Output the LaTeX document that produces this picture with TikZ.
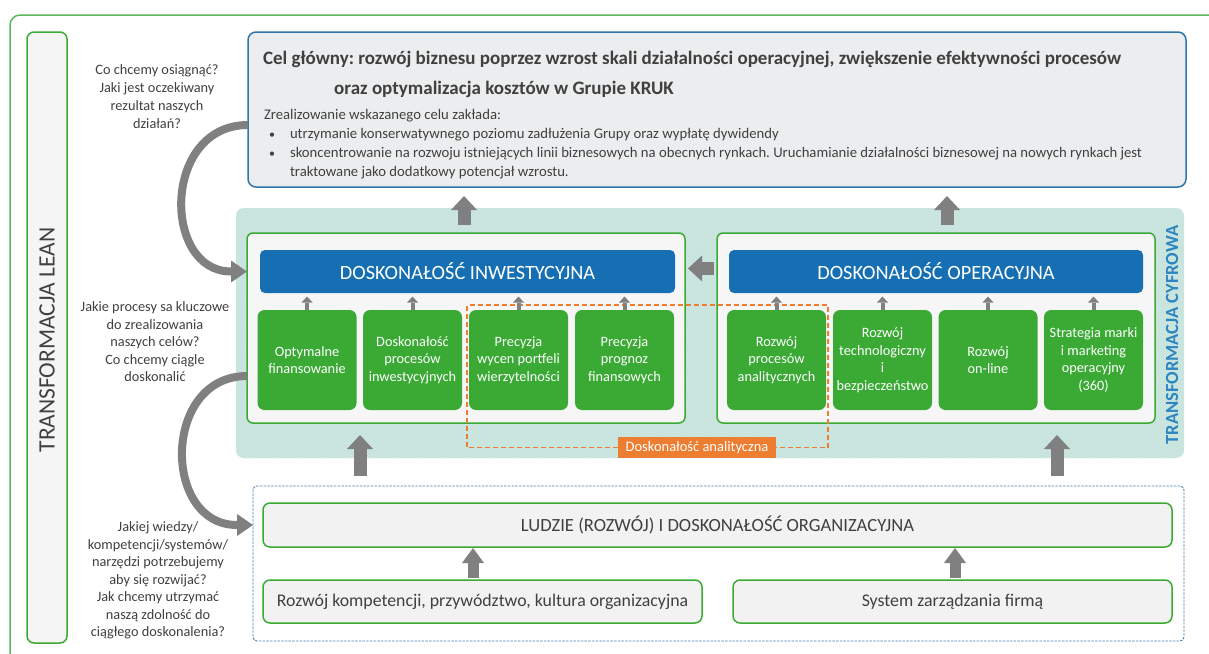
\documentclass[tikz,border=0pt]{standalone}
\usepackage{fontspec}
\setmainfont{Carlito}
\usetikzlibrary{arrows.meta,patterns,calc}
\definecolor{frameg}{RGB}{92,184,92}
\definecolor{boxg}{RGB}{58,170,53}
\definecolor{hdrblue}{RGB}{21,111,178}
\definecolor{topblue}{RGB}{46,117,170}
\definecolor{tealc}{RGB}{196,225,218}
\definecolor{teall}{RGB}{216,236,231}
\definecolor{orng}{RGB}{237,125,49}
\definecolor{txt}{RGB}{64,64,64}
\definecolor{arr}{RGB}{128,128,128}
\definecolor{cyfblue}{RGB}{46,134,193}
\definecolor{dashblue}{RGB}{70,130,180}
\definecolor{lgray}{RGB}{236,237,238}
\frenchspacing
\begin{document}
\begin{tikzpicture}[x=1pt,y=-1pt,
  every node/.style={inner sep=0pt, outer sep=0pt},
  fsz/.style 2 args={font=\fontsize{#1}{#2}\selectfont},
  bsz/.style 2 args={font=\fontsize{#1}{#2}\selectfont\bfseries},
  qtext/.style={align=center, text=txt, fsz={14.3}{17.5}},
  topbox/.style={draw=topblue, line width=1.5pt, rounded corners=8pt, fill=lgray},
  bandbox/.style={rounded corners=8pt, fill=tealc, postaction={pattern=north east lines, pattern color=teall}},
  groupbox/.style={draw=boxg, line width=1.5pt, rounded corners=6pt, fill=gray!7},
  hdrbox/.style={fill=hdrblue, rounded corners=5pt, text=white, fsz={20.3}{24}},
  gbox/.style={fill=boxg, rounded corners=7pt, text=white, align=center, fsz={14.3}{17.5}, minimum width=99pt, minimum height=100pt},
  lbox/.style={draw=boxg, line width=1.5pt, rounded corners=7pt, fill=gray!10, text=txt},
  bigarr/.style={draw=arr, line width=13pt, -{Triangle[length=14pt,width=26pt,line width=0pt]}},
  midarr/.style={draw=arr, line width=11pt, -{Triangle[length=15pt,width=22pt,line width=0pt]}},
  smallarr/.style={draw=arr, line width=4pt, -{Triangle[length=6pt,width=11pt,line width=0pt]}},
  curvarr/.style={draw=arr, line width=8pt, -{Triangle[length=16pt,width=22pt,line width=0pt]}},
  odash/.style={draw=orng, line width=1.3pt, dash pattern=on 5pt off 3pt}
]
\useasboundingbox (0,0) rectangle (1209,653);
\fill[white] (0,0) rectangle (1209,653);

% outer frame
\draw[frameg, line width=1.5pt, rounded corners=10pt] (10,670) -- (10,15) -- (1220,15);

% left bar
\node[lbox, minimum width=40pt, minimum height=611pt, fill=gray!8] (lean) at (47,337.5) {};
\node[rotate=90, text=txt, fsz={23.5}{26}] (leant) at (47,340) {TRANSFORMACJA LEAN};

% questions
\node[qtext, fsz={14.3}{18}] (q1) at (157,97) {Co chcemy osiągnąć?\\Jaki jest oczekiwany\\rezultat naszych\\działań?};
\node[qtext] (q2) at (155,342) {Jakie procesy sa kluczowe\\do zrealizowania\\naszych celów?\\Co chcemy ciągle\\doskonalić};
\node[qtext] (q3) at (158,580.5) {Jakiej wiedzy/\\kompetencji/systemów/\\narzędzi potrzebujemy\\aby się rozwijać?\\Jak chcemy utrzymać\\naszą zdolność do\\ciągłego doskonalenia?};

% top box
\node[topbox, minimum width=938pt, minimum height=155pt] (top) at (717,109.5) {};
\node[anchor=base west, text=txt, bsz={19}{22}] (t1) at (263,64) {Cel główny: rozwój biznesu poprzez wzrost skali działalności operacyjnej, zwiększenie efektywności procesów};
\node[anchor=base, text=txt, bsz={19}{22}] (t2) at (504,94) {oraz optymalizacja kosztów w Grupie KRUK};
\node[anchor=base west, text=txt, fsz={14.7}{17}] (b0) at (264,119.5) {Zrealizowanie wskazanego celu zakłada:};
\node[anchor=base west, text=txt, fsz={12}{17}] (bu1) at (269,138) {•};
\node[anchor=base west, text=txt, fsz={14.7}{17}] (bt1) at (290,138) {utrzymanie konserwatywnego poziomu zadłużenia Grupy oraz wypłatę dywidendy};
\node[anchor=base west, text=txt, fsz={12}{17}] (bu2) at (269,157) {•};
\node[anchor=base west, text=txt, fsz={14.7}{17}] (bt2) at (290,157) {skoncentrowanie na rozwoju istniejących linii biznesowych na obecnych rynkach. Uruchamianie działalności biznesowej na nowych rynkach jest};
\node[anchor=base west, text=txt, fsz={14.7}{17}] (bt3) at (290,176.5) {traktowane jako dodatkowy potencjał wzrostu.};

% teal band
\node[bandbox, minimum width=948pt, minimum height=250pt] (band) at (710,333) {};
\node[rotate=90, text=cyfblue, bsz={18.5}{21}] (cyf) at (1172,335) {TRANSFORMACJA CYFROWA};

% arrows top box <- band
\coordinate (ua1) at (464,225);
\coordinate (ua2) at (464,196);
\coordinate (ub1) at (947,225);
\coordinate (ub2) at (947,196);
\draw[bigarr] (ua1) -- (ua2);
\draw[bigarr] (ub1) -- (ub2);

% group boxes
\node[groupbox, minimum width=438pt, minimum height=190pt] (invbox) at (466,328) {};
\node[groupbox, minimum width=438pt, minimum height=190pt] (opbox) at (936,328) {};
\node[hdrbox, minimum width=415pt, minimum height=43pt] (inv) at (467.5,271.5) {DOSKONAŁOŚĆ INWESTYCYJNA};
\node[hdrbox, minimum width=414pt, minimum height=43pt] (op) at (936,271.5) {DOSKONAŁOŚĆ OPERACYJNA};

% orange dashed region
\node[fill=orng, text=white, fsz={14.5}{16}, minimum width=158pt, minimum height=21pt] (orlab) at (697,447.5) {Doskonałość analityczna};
\coordinate (oc1) at (467,447.5);
\coordinate (oc2) at (467,305);
\coordinate (oc3) at (828,305);
\coordinate (oc4) at (828,447.5);
\draw[odash] (orlab.west) -- (oc1) -- (oc2) -- (oc3) -- (oc4) -- (orlab.east);

% green boxes
\node[gbox] (g1) at (307,360) {Optymalne\\finansowanie};
\node[gbox] (g2) at (412.5,360) {Doskonałość\\procesów\\inwestycyjnych};
\node[gbox] (g3) at (518.5,360) {Precyzja\\wycen portfeli\\wierzytelności};
\node[gbox] (g4) at (624.5,360) {Precyzja\\prognoz\\finansowych};
\node[gbox] (g5) at (776.5,360) {Rozwój\\procesów\\analitycznych};
\node[gbox] (g6) at (882.5,360) {Rozwój\\technologiczny\\i\\bezpieczeństwo};
\node[gbox] (g7) at (988,360) {Rozwój\\on-line};
\node[gbox] (g8) at (1093.5,360) {Strategia marki\\i marketing\\operacyjny\\(360)};

\foreach \g in {g1,g2,g3,g4}{
  \draw[smallarr] (\g.north) -- ($(\g.north |- inv.south)+(0,3.5)$);
}
\foreach \g in {g5,g6,g7,g8}{
  \draw[smallarr] (\g.north) -- ($(\g.north |- op.south)+(0,3.5)$);
}

% arrow op -> inv
\draw[bigarr] ($(opbox.west |- inv.east)+(-3,-3)$) -- ($(invbox.east |- inv.east)+(3,-3)$);

% bottom section
\node[draw=dashblue, line width=0.9pt, dash pattern=on 2.5pt off 1.2pt, rounded corners=4pt, minimum width=931pt, minimum height=155pt] (base) at (718.5,563.5) {};
\node[lbox, minimum width=909pt, minimum height=44pt, fsz={18.6}{21}] (ludzie) at (717.5,525) {LUDZIE (ROZWÓJ) I DOSKONAŁOŚĆ ORGANIZACYJNA};
\node[lbox, minimum width=439pt, minimum height=43pt, fsz={17.8}{20}] (bl) at (482.5,601.5) {Rozwój kompetencji, przywództwo, kultura organizacyjna};
\node[lbox, minimum width=439pt, minimum height=43pt, fsz={17.8}{20}] (br) at (952.5,601.5) {System zarządzania firmą};

\coordinate (ma1) at (473,578);
\coordinate (ma2) at (473,548);
\coordinate (mb1) at (955,578);
\coordinate (mb2) at (955,548);
\draw[midarr] (ma1) -- (ma2);
\draw[midarr] (mb1) -- (mb2);

% arrows base -> band
\coordinate (la1) at (360,476);
\coordinate (la2) at (360,435);
\coordinate (lb1) at (1057,476);
\coordinate (lb2) at (1057,435);
\draw[bigarr] (la1) -- (la2);
\draw[bigarr] (lb1) -- (lb2);

% curved arrows
\draw[curvarr] ($(top.west)+(0,15.5)$) .. controls (162,125) and (162,271.5) .. (invbox.west |- inv.west);
\draw[curvarr] ($(invbox.west)+(0,48)$) .. controls (162,376) and (162,525) .. (base.west |- ludzie.west);
\end{tikzpicture}
\end{document}
